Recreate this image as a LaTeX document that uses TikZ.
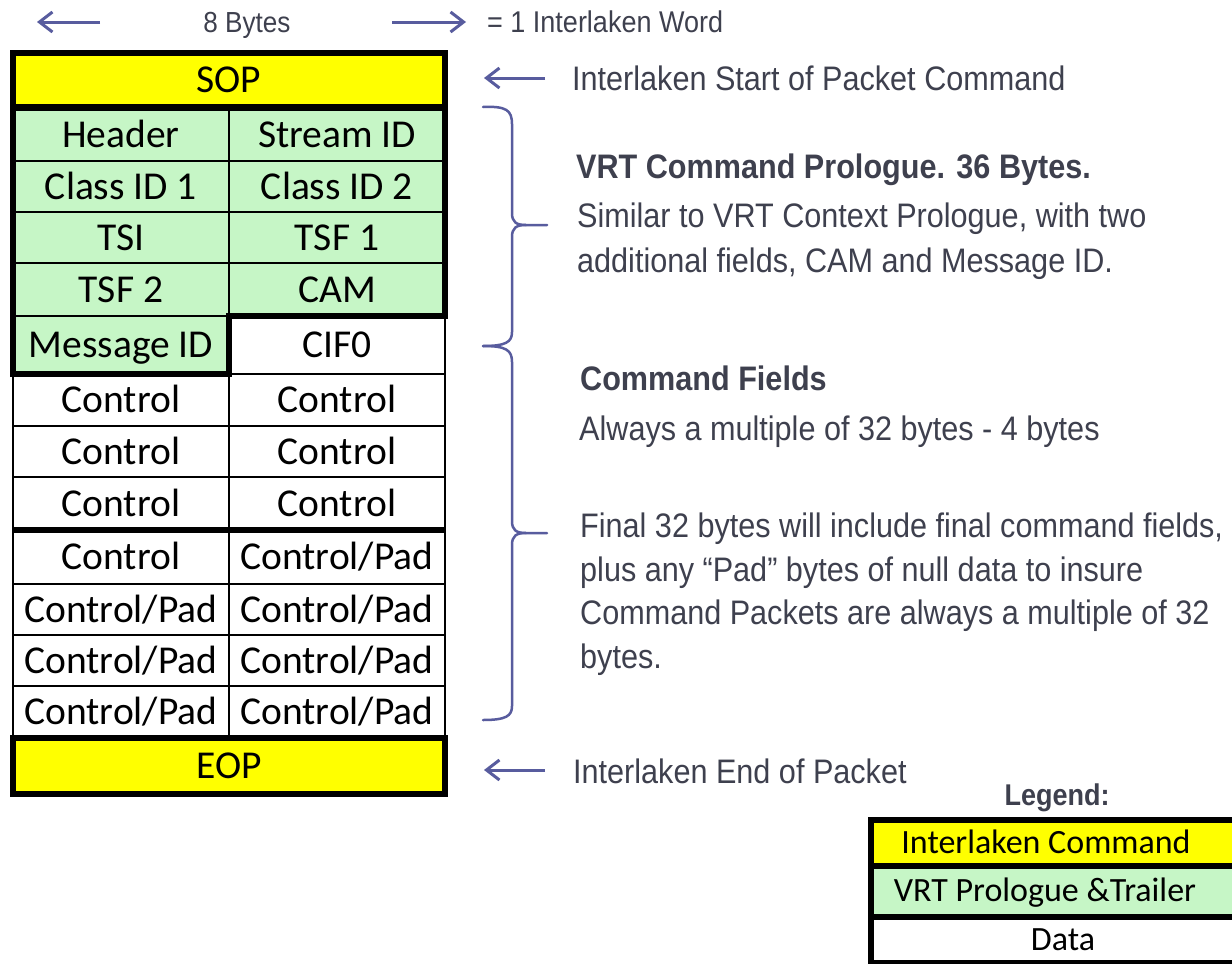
\documentclass[tikz,border=0pt]{standalone}
\usepackage{fontspec}
\setmainfont{Carlito}
\newfontfamily\rsans[FakeStretch=0.9]{Liberation Sans}
\usetikzlibrary{arrows.meta}
\definecolor{yel}{RGB}{255,255,0}
\definecolor{grn}{RGB}{198,246,198}
\definecolor{arr}{RGB}{88,92,158}
\definecolor{txt}{RGB}{62,64,78}
\begin{document}
\begin{tikzpicture}[x=1pt,y=-1pt,
  cell/.style={draw=black, line width=2.5pt, rectangle, inner sep=0pt, outer sep=0pt,
    minimum width=216pt, font=\fontsize{39.5}{44}\selectfont,
    text height=25.4pt, text depth=0pt},
  wide/.style={cell, minimum width=432pt},
  g/.style={fill=grn},
  thickln/.style={draw=black, line width=6.5pt},
  lcell/.style={draw=black, line width=6pt, rectangle, inner sep=0pt, outer sep=0pt,
    minimum width=388pt},
  ltext/.style={font=\fontsize{34}{40}\selectfont, text height=21.9pt, text depth=0pt, inner sep=0pt},
  rtext/.style={anchor=base west, inner sep=0pt, text=txt,
    font=\rsans\fontsize{34}{40}\selectfont},
  rbold/.style={rtext, font=\rsans\bfseries\fontsize{34}{40}\selectfont},
  arrowsty/.style={draw=arr, line width=3pt, -{Straight Barb[length=13pt,width=20pt]}},
  bracesty/.style={draw=arr, line width=2.5pt, line cap=round}]
\useasboundingbox (0,0) rectangle (1232,964);
\fill[white] (0,0) rectangle (1232,964);

% ---------- table ----------
\node[wide, fill=yel, minimum height=54pt] (sop) at (229,80) {SOP};
\node[cell, g, minimum height=53pt] (hdr) at (121,134.5) {Header};
\node[cell, g, minimum height=53pt] (sid) at (337,134.5) {Stream ID};
\node[cell, g, minimum height=51pt] (cid1) at (121,186.5) {Class ID 1};
\node[cell, g, minimum height=51pt] (cid2) at (337,186.5) {Class ID 2};
\node[cell, g, minimum height=51pt] (tsi) at (121,237.5) {TSI};
\node[cell, g, minimum height=51pt] (tsf1) at (337,237.5) {TSF 1};
\node[cell, g, minimum height=53pt] (tsf2) at (121,289.5) {TSF 2};
\node[cell, g, minimum height=53pt] (cam) at (337,289.5) {CAM};
\node[cell, g, minimum height=58pt] (msg) at (121,345) {Message ID};
\node[cell, fill=white, minimum height=58pt] (cif) at (337,345) {CIF0};
\node[cell, minimum height=52pt] (c1a) at (121,400) {Control};
\node[cell, minimum height=52pt] (c1b) at (337,400) {Control};
\node[cell, minimum height=51pt] (c2a) at (121,451.5) {Control};
\node[cell, minimum height=51pt] (c2b) at (337,451.5) {Control};
\node[cell, minimum height=53pt] (c3a) at (121,503.5) {Control};
\node[cell, minimum height=53pt] (c3b) at (337,503.5) {Control};
\node[cell, minimum height=54pt] (c4a) at (121,557) {Control};
\node[cell, minimum height=54pt] (c4b) at (337,557) {Control/Pad};
\node[cell, minimum height=51pt] (p1a) at (121,609.5) {Control/Pad};
\node[cell, minimum height=51pt] (p1b) at (337,609.5) {Control/Pad};
\node[cell, minimum height=51pt] (p2a) at (121,660.5) {Control/Pad};
\node[cell, minimum height=51pt] (p2b) at (337,660.5) {Control/Pad};
\node[cell, minimum height=52pt] (p3a) at (121,712) {Control/Pad};
\node[cell, minimum height=52pt] (p3b) at (337,712) {Control/Pad};
\node[wide, fill=yel, minimum height=56pt] (eop) at (229,766) {EOP};

% thick outlines
\draw[thickln] (sop.north west) rectangle (sop.south east);
\draw[thickln, line join=miter] (hdr.north west) -- (sid.north east) -- (cam.south east)
  -- (cam.south west) -- (msg.south east) -- (msg.south west) -- cycle;
\draw[thickln] (c3a.south west) -- (c3b.south east);
\draw[thickln] (eop.north west) rectangle (eop.south east);

% ---------- top line ----------
\node[anchor=base, inner sep=0pt, text=txt, font=\rsans\fontsize{29}{34}\selectfont] (bytes) at (247,32) {8 Bytes};
\node[anchor=base west, inner sep=0pt, text=txt, font=\rsans\fontsize{30}{36}\selectfont] (word) at (487,32) {= 1 Interlaken Word};
\coordinate (aLs) at (100,22);
\coordinate (aLe) at (37,22);
\coordinate (aRs) at (392,22);
\coordinate (aRe) at (466,22);
\draw[arrowsty] (aLs) -- (aLe);
\draw[arrowsty] (aRs) -- (aRe);

% ---------- right side texts ----------
\node[rtext] (tsop) at (572,90) {Interlaken Start of Packet Command};
\node[rbold] (tv1) at (576,178) {VRT Command Prologue. 36 Bytes.};
\node[rtext] (tv2) at (577,227) {Similar to VRT Context Prologue, with two};
\node[rtext] (tv3) at (577,272) {additional fields, CAM and Message ID.};
\node[rbold] (tc1) at (580,390) {Command Fields};
\node[rtext] (tc2) at (579,440) {Always a multiple of 32 bytes - 4 bytes};
\node[rtext] (tf1) at (580,537) {Final 32 bytes will include final command fields,};
\node[rtext] (tf2) at (580,581) {plus any “Pad” bytes of null data to insure};
\node[rtext] (tf3) at (580,624) {Command Packets are always a multiple of 32};
\node[rtext] (tf4) at (580,668) {bytes.};
\node[rtext] (teop) at (573,783) {Interlaken End of Packet};

\coordinate (sopA) at (545,78);
\coordinate (sopB) at (484,78);
\coordinate (eopA) at (545,770);
\coordinate (eopB) at (484,770);
\draw[arrowsty] (sopA) -- (sopB);
\draw[arrowsty] (eopA) -- (eopB);

% ---------- braces ----------
\coordinate (b1top) at (483,107);
\coordinate (b1tip) at (547,225);
\coordinate (b1bot) at (483,346);
\draw[bracesty] (b1top) .. controls (506,106) and (512,110) .. (512,124) -- (512,213)
  .. controls (512,222) and (516,225) .. (526,225) -- (b1tip);
\draw[bracesty] (526,225) .. controls (516,225) and (512,228) .. (512,237) -- (512,332)
  .. controls (512,342) and (506,346) .. (b1bot);
\coordinate (b2top) at (483,346);
\coordinate (b2tip) at (547,533);
\coordinate (b2bot) at (483,720);
\draw[bracesty] (b2top) .. controls (506,346) and (512,350) .. (512,362) -- (512,521)
  .. controls (512,530) and (516,533) .. (526,533) -- (b2tip);
\draw[bracesty] (526,533) .. controls (516,533) and (512,536) .. (512,545) -- (512,706)
  .. controls (512,716) and (506,720) .. (b2bot);

% ---------- legend ----------
\node[anchor=base, inner sep=0pt, text=txt, font=\rsans\bfseries\fontsize{30}{36}\selectfont] (legt) at (1057,805) {Legend:};
\begin{scope}
\clip (0,0) rectangle (1232,964);
\node[lcell, fill=yel, minimum height=46pt] (l1) at (1065,843) {};
\node[lcell, fill=grn, minimum height=51pt] (l2) at (1065,891.5) {};
\node[lcell, fill=white, minimum height=46pt] (l3) at (1065,940) {};
\end{scope}
\node[ltext] (l1t) at (1046,843) {Interlaken Command};
\node[ltext] (l2t) at (1045,891) {VRT Prologue \&Trailer};
\node[ltext] (l3t) at (1063,940) {Data};
\end{tikzpicture}
\end{document}
